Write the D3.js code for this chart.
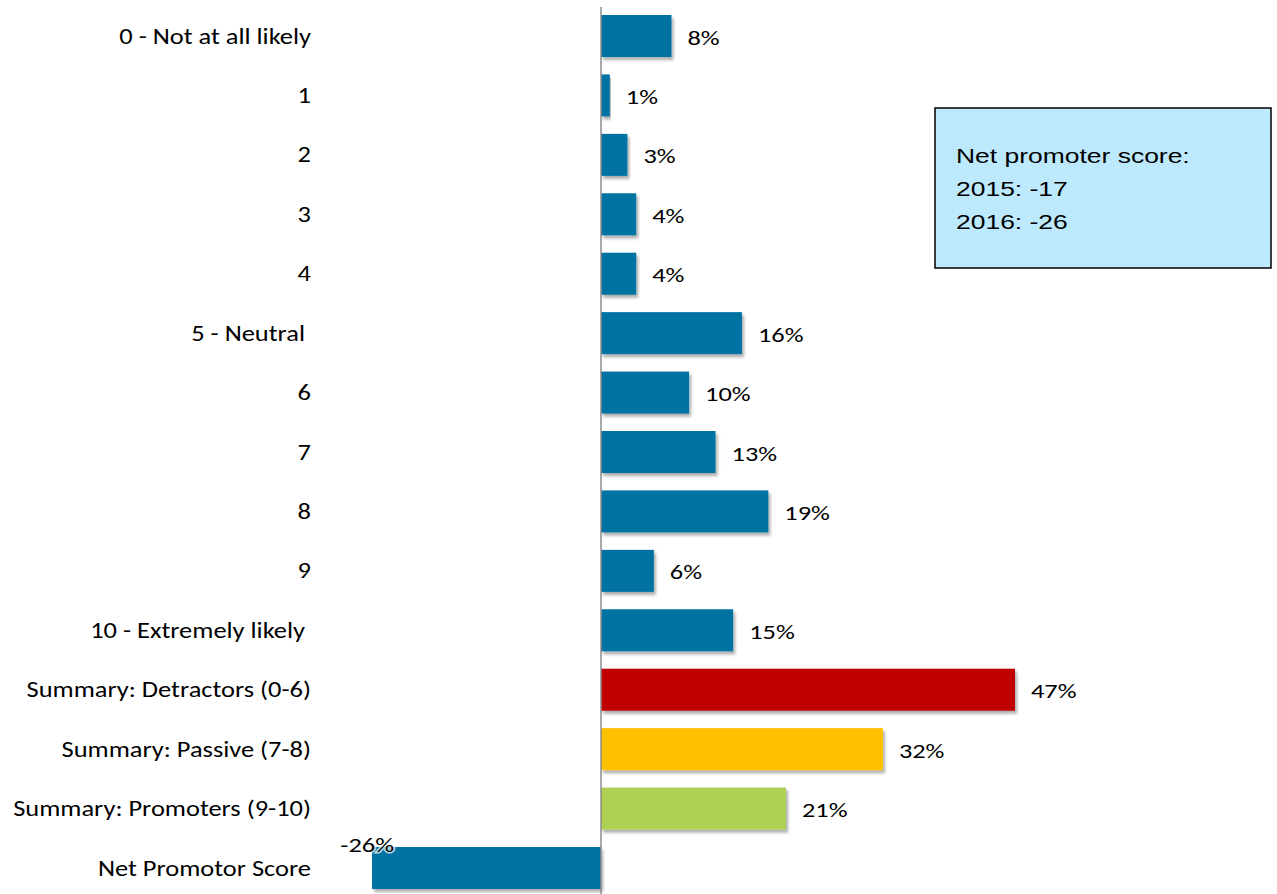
<!DOCTYPE html>
<html>
<head>
<meta charset="utf-8">
<script src="https://cdn.jsdelivr.net/npm/d3@7"></script>
<style>
  html, body { margin: 0; padding: 0; background: #ffffff; }
  svg { display: block; }
</style>
</head>
<body>
<svg id="chart" width="1277" height="894"></svg>
<script>
// Likelihood-to-recommend responses, summary groups and the resulting NPS
const categories = [
  "0 - Not at all likely", "1", "2", "3", "4", "5 - Neutral ", "6", "7", "8", "9",
  "10 - Extremely likely ", "Summary: Detractors (0-6)", "Summary: Passive (7-8)",
  "Summary: Promoters (9-10)", "Net Promotor Score"
];
const values = [8, 1, 3, 4, 4, 16, 10, 13, 19, 6, 15, 47, 32, 21, -26];
const groups = [
  "score", "score", "score", "score", "score", "score", "score", "score", "score", "score",
  "score", "detractors", "passive", "promoters", "net"
];
const groupNames = ["score", "detractors", "passive", "promoters", "net"];
const noteLines = ["Net promoter score:", "2015: -17", "2016: -26"];

const svg = d3.select("#chart");
const labelFont = "Carlito, Calibri, Lato, 'Open Sans', sans-serif";
// the slide's text is drawn wide
const catStretch = 1.15;
const valStretch = 1.32;
const noteStretch = 1.26;

const color = d3.scaleOrdinal()
  .domain(groupNames)
  .range(["#0073a2", "#c00000", "#ffc000", "#aed152", "#0073a2"]);

const x = d3.scaleLinear().domain([-26, 47]).range([372, 1015]);
const y = d3.scaleBand()
  .domain(categories)
  .range([15, 889])
  .paddingInner(0.293)
  .paddingOuter(0);

// soft drop shadow under bars
const defs = svg.append("defs");
const shadow = defs.append("filter").attr("id", "barShadow")
  .attr("x", "-5%").attr("y", "-20%").attr("width", "115%").attr("height", "160%");
shadow.append("feDropShadow")
  .attr("dx", 2).attr("dy", 3).attr("stdDeviation", 1.8)
  .attr("flood-color", "#000").attr("flood-opacity", 0.32);

// bars
svg.append("g").selectAll("rect")
  .data(values)
  .join("rect")
  .attr("x", d => x(Math.min(0, d)))
  .attr("y", (d, i) => y(categories[i]))
  .attr("width", d => Math.abs(x(d) - x(0)))
  .attr("height", y.bandwidth())
  .attr("fill", (d, i) => color(groups[i]))
  .attr("filter", "url(#barShadow)");

// zero axis line
svg.append("line")
  .attr("x1", x(0)).attr("x2", x(0))
  .attr("y1", 7).attr("y2", 894)
  .attr("stroke", "#8c8c8c").attr("stroke-width", 1.5);

// category labels
const yAxis = d3.axisLeft(y).tickSize(0).tickPadding(0);
const axisG = svg.append("g")
  .attr("transform", `translate(311,0) scale(${catStretch},1)`)
  .call(yAxis);
axisG.select(".domain").remove();
axisG.selectAll("text")
  .attr("font-family", labelFont)
  .attr("font-size", 23)
  .attr("fill", "#000")
  .attr("dy", "0.33em")
  .style("white-space", "pre");

// value labels
svg.append("g").selectAll("text")
  .data(values)
  .join("text")
  .attr("transform", (d, i) => {
    const tx = d >= 0 ? x(d) + 16 : x(d) + 22;
    const ty = d >= 0 ? y(categories[i]) + y.bandwidth() / 2 + 1.5 : y(categories[i]) - 2;
    return `translate(${tx},${ty}) scale(${valStretch},1)`;
  })
  .attr("dy", "0.35em")
  .attr("text-anchor", d => d >= 0 ? "start" : "end")
  .attr("font-family", labelFont)
  .attr("font-size", 20)
  .attr("fill", "#000")
  .attr("stroke", d => d >= 0 ? "none" : "#ffffff")
  .attr("stroke-width", 3)
  .attr("stroke-opacity", 0.7)
  .attr("paint-order", "stroke")
  .text(d => d + "%");

// note box
const note = svg.append("g");
note.append("rect")
  .attr("x", 935).attr("y", 108)
  .attr("width", 336).attr("height", 160)
  .attr("fill", "#bde9fd")
  .attr("stroke", "#000").attr("stroke-width", 1.5);
note.selectAll("text")
  .data(noteLines)
  .join("text")
  .attr("transform", (d, i) => `translate(956,${163 + i * 33}) scale(${noteStretch},1)`)
  .attr("font-family", "'Liberation Sans', Arial, sans-serif")
  .attr("font-size", 21)
  .attr("fill", "#000")
  .text(d => d);
</script>
</body>
</html>
